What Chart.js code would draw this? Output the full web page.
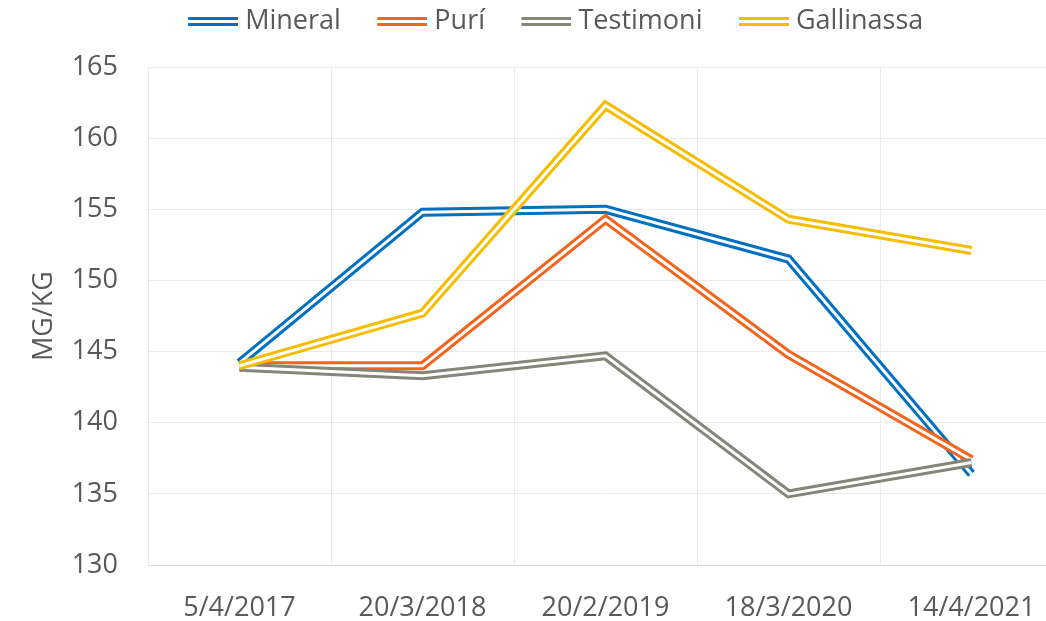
<!DOCTYPE html>
<html>
<head>
<meta charset="utf-8">
<script src="https://cdn.jsdelivr.net/npm/chart.js@4.4.1/dist/chart.umd.min.js"></script>
<style>
  html, body { margin: 0; padding: 0; background: #fff; overflow: hidden; }
  #wrap { position: absolute; left: 0; top: 0; width: 1088px; height: 621px; }
</style>
</head>
<body>
<div id="wrap"><canvas id="chart" width="1088" height="621"></canvas></div>
<script>
// DATA
const dates = ['5/4/2017', '20/3/2018', '20/2/2019', '18/3/2020', '14/4/2021'];
const mineral = [144.2, 154.8, 155.0, 151.5, 136.4];
const puri = [144.0, 144.0, 154.3, 144.8, 137.4];
const testimoni = [143.9, 143.3, 144.7, 135.0, 137.2];
const gallinassa = [144.0, 147.7, 162.3, 154.3, 152.1];
const seriesNames = ['Mineral', 'Purí', 'Testimoni', 'Gallinassa'];
const yMin = 130;
const yMax = 165;
const yStep = 5;

const seriesData = [mineral, puri, testimoni, gallinassa];
const seriesColors = ['#0070c0', '#f0661e', '#85857a', '#f4bd00'];
const fontSize = 27;

Chart.defaults.font.family = "'Open Sans', sans-serif";
Chart.defaults.color = '#595959';

// Double line sample for the legend (drawn at the right part of a wider image)
function makeLegendSample(color) {
    const c = document.createElement('canvas');
    c.width = 85;
    c.height = 9;
    const g = c.getContext('2d');
    g.fillStyle = color;
    g.fillRect(35, 0, 50, 3);
    g.fillRect(35, 6, 50, 3);
    return c;
}

// Each series = thick coloured line + thin white line on top -> double line
const datasets = [];
seriesNames.forEach((name, i) => {
    datasets.push({
        label: name,
        data: seriesData[i],
        borderColor: seriesColors[i],
        backgroundColor: seriesColors[i],
        borderWidth: 9,
        borderJoinStyle: 'miter',
        pointRadius: 0,
        pointHoverRadius: 0,
        pointStyle: makeLegendSample(seriesColors[i]),
        tension: 0,
        order: (3 - i) * 2 + 1
    });
    datasets.push({
        label: name,
        inner: true,
        data: seriesData[i],
        borderColor: '#ffffff',
        borderWidth: 3,
        borderJoinStyle: 'miter',
        pointRadius: 0,
        pointHoverRadius: 0,
        tension: 0,
        order: (3 - i) * 2
    });
});

// Give the legend a fixed height so the plot starts where the reference does
const legendHeight = {
    id: 'legendHeight',
    beforeUpdate(chart) {
        const lg = chart.legend;
        if (lg && !lg._patched) {
            const origFit = lg.fit;
            lg.fit = function () {
                origFit.call(this);
                this.height = 67;
            };
            lg._patched = true;
        }
    }
};

new Chart(document.getElementById('chart'), {
    type: 'line',
    data: { labels: dates, datasets: datasets },
    options: {
        responsive: false,
        animation: false,
        devicePixelRatio: 1,
        layout: { padding: { left: 20, right: 25, top: 0, bottom: 0 } },
        plugins: {
            tooltip: { enabled: false },
            legend: {
                position: 'top',
                labels: {
                    usePointStyle: true,
                    pointStyleWidth: 72,
                    padding: 8,
                    color: '#595959',
                    font: { size: fontSize },
                    filter: (item, data) => !data.datasets[item.datasetIndex].inner,
                    sort: (a, b) => a.datasetIndex - b.datasetIndex
                }
            }
        },
        scales: {
            x: {
                offset: true,
                grid: { offset: true, color: '#ebebeb', drawTicks: false },
                border: { color: '#d9d9d9' },
                ticks: { padding: 27, font: { size: fontSize }, color: '#595959', maxRotation: 0, autoSkip: false },
                afterFit: s => { s.height = 56; }
            },
            y: {
                min: yMin,
                max: yMax,
                ticks: { stepSize: yStep, padding: 30, font: { size: fontSize }, color: '#595959' },
                grid: { color: '#ebebeb', drawTicks: false },
                border: { display: false },
                title: {
                    display: true,
                    text: 'MG/KG',
                    color: '#595959',
                    font: { size: fontSize },
                    padding: { top: 8, bottom: 0 }
                },
                afterFit: s => { s.width = 128; }
            }
        }
    },
    plugins: [legendHeight]
});
</script>
</body>
</html>
